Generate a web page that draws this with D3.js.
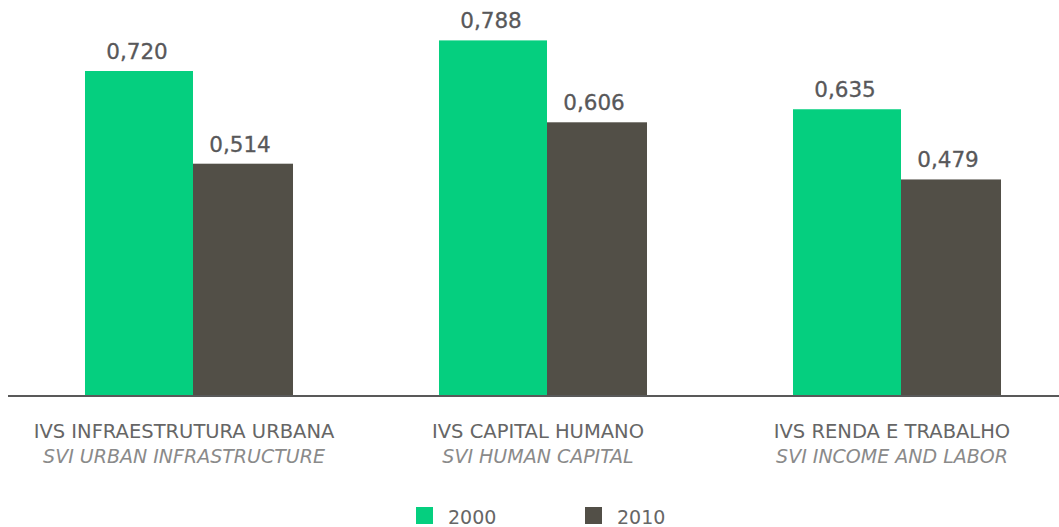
<!DOCTYPE html>
<html><head><meta charset="utf-8">
<script src="https://cdn.jsdelivr.net/npm/d3@7"></script>
<style>body{margin:0;background:#fff}svg{display:block}</style>
</head><body><svg id="c" width="1059" height="527"></svg>
<script>
const categories = ["IVS INFRAESTRUTURA URBANA","IVS CAPITAL HUMANO","IVS RENDA E TRABALHO"];
const subLabels = ["SVI URBAN INFRASTRUCTURE","SVI HUMAN CAPITAL","SVI INCOME AND LABOR"];
const seriesNames = ["2000","2010"];
const values2000 = [0.720,0.788,0.635];
const values2010 = [0.514,0.606,0.479];
const colors = ["#05cf7f","#524f47"];

const svg = d3.select("#c");
const font = "DejaVu Sans, sans-serif";
const base = 395;
const y = d3.scaleLinear().domain([0,0.8]).range([base,35]);
const x = d3.scaleBand().domain(categories).range([8,1070]).paddingInner(0.435).paddingOuter(0.2175);
const bw = x.bandwidth();
const wA = bw*0.54, wB = bw*0.5;
const fmt = v => d3.format(".3f")(v).replace(".",",");

const series = [values2000, values2010];
series.forEach((vals,si)=>{
  const off = si===0 ? 0 : wA;
  const w = si===0 ? wA : wB;
  const g = svg.append("g");
  g.selectAll("rect").data(vals).join("rect")
    .attr("x",(d,i)=>x(categories[i])+off).attr("width",w)
    .attr("y",d=>y(d)).attr("height",d=>base-y(d)).attr("fill",colors[si]);
  g.selectAll("text").data(vals).join("text")
    .attr("x",(d,i)=>x(categories[i])+off+w/2 - (si===1?3:2))
    .attr("y",d=>y(d)-12).attr("text-anchor","middle")
    .attr("font-family",font).attr("font-size",21.5).attr("fill","#58585a")
    .attr("stroke","#58585a").attr("stroke-width",0.3)
    .text(fmt);
});

svg.append("line").attr("x1",8).attr("x2",1059).attr("y1",base+1).attr("y2",base+1)
  .attr("stroke","#222").attr("stroke-width",1.5);

const cx = c => x(c)+bw/2 - 1;
svg.append("g").selectAll("text").data(categories).join("text")
  .attr("x",cx).attr("y",438).attr("text-anchor","middle")
  .attr("font-family",font).attr("font-size",19.5).attr("fill","#666").text(d=>d);
svg.append("g").selectAll("text").data(subLabels).join("text")
  .attr("x",(d,i)=>cx(categories[i])).attr("y",463).attr("text-anchor","middle")
  .attr("font-family",font).attr("font-size",19).attr("font-style","italic").attr("fill","#8a8a8a").text(d=>d);

const legX = [416,585];
const lg = svg.append("g").selectAll("g").data(seriesNames).join("g")
  .attr("transform",(d,i)=>`translate(${legX[i]},507)`);
lg.append("rect").attr("width",17).attr("height",17).attr("fill",(d,i)=>colors[i]);
lg.append("text").attr("x",32).attr("y",17).attr("font-family",font).attr("font-size",19)
  .attr("fill","#666").text(d=>d);
</script></body></html>
